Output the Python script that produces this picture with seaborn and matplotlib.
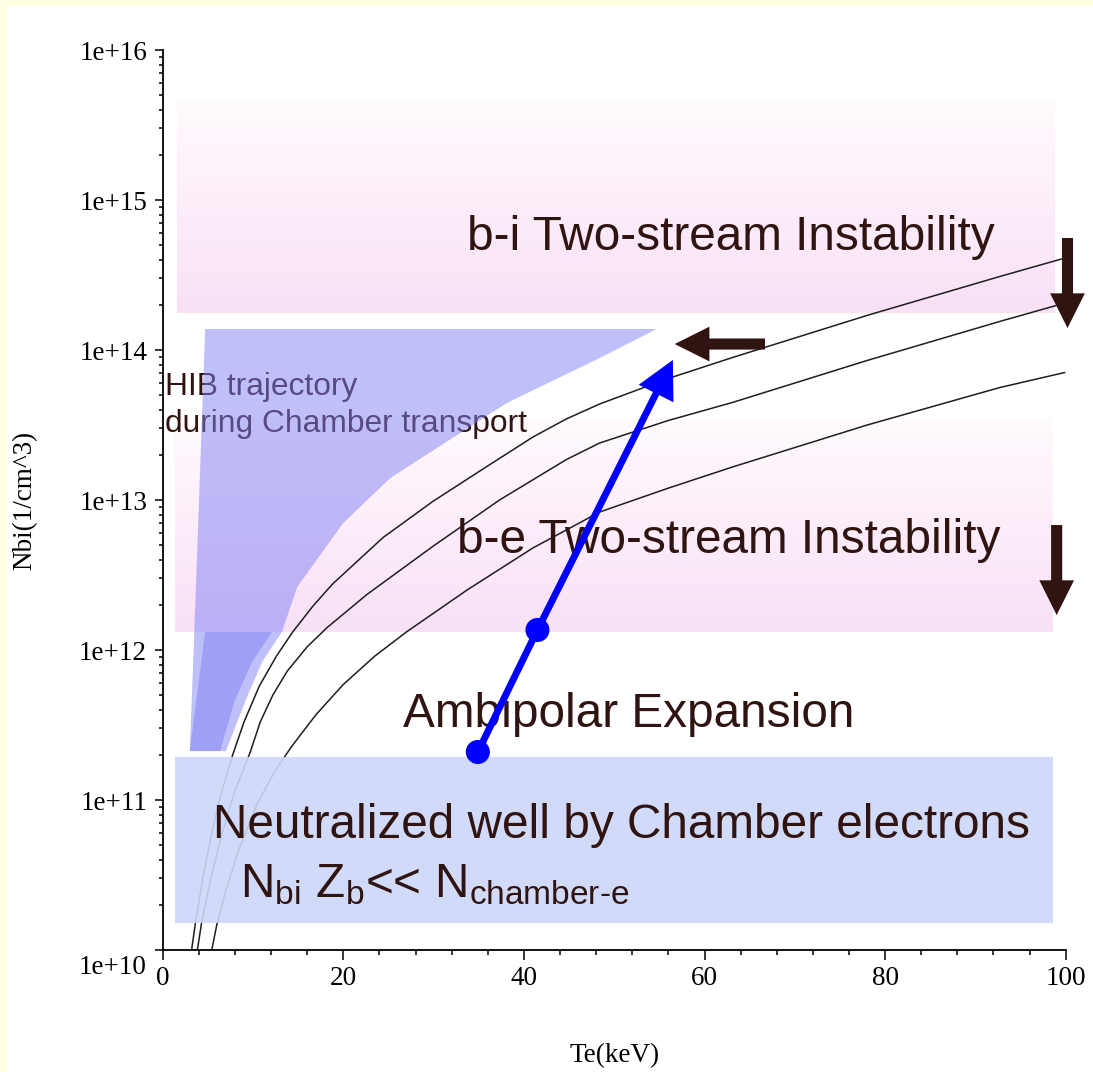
import numpy as np
import pandas as pd
import seaborn as sns
import matplotlib
matplotlib.use("Agg")
import matplotlib.pyplot as plt
from matplotlib.patches import Polygon, Rectangle
from matplotlib.ticker import MultipleLocator, LogLocator, NullFormatter
from matplotlib.colors import to_rgb

# ---------------------------------------------------------------- data
# Threshold curves Nbi(Te) [1/cm^3] vs Te [keV]
te_curve1 = [3.2, 3.6, 4.5, 5.5, 6.5, 7.75, 9.0, 10.7, 12.6, 14.4, 16.6, 18.8,
             24.4, 29.9, 35.4, 41.0, 44.7, 48.4, 56.0, 63.1, 78.0, 92.7, 99.7]
nb_curve1 = [1.0e10, 1.48e10, 3.16e10, 6.31e10, 1.12e11, 2.0e11, 3.31e11, 5.75e11,
             9.12e11, 1.32e12, 1.95e12, 2.75e12, 5.62e12, 9.77e12, 1.6e13, 2.63e13,
             3.47e13, 4.37e13, 6.46e13, 8.91e13, 1.70e14, 3.09e14, 4.07e14]

te_curve2 = [3.84, 4.3, 5.3, 6.5, 8.0, 9.7, 10.8, 12.2, 13.8, 16.0, 18.2, 22.6,
             29.9, 37.3, 44.7, 48.4, 56.0, 63.1, 78.0, 92.7, 99.7]
nb_curve2 = [1.0e10, 1.51e10, 2.95e10, 5.75e10, 1.15e11, 2.09e11, 3.31e11, 5.01e11,
             7.24e11, 1.05e12, 1.41e12, 2.34e12, 4.9e12, 1.0e13, 1.86e13, 2.4e13,
             3.39e13, 4.47e13, 8.51e13, 1.55e14, 2.04e14]

te_curve3 = [5.43, 6.0, 7.0, 8.5, 10.5, 12.5, 14.2, 15.2, 17.0, 20.0, 23.5, 27.0,
             33.7, 41.0, 48.4, 56.0, 63.1, 78.0, 92.7, 99.9]
nb_curve3 = [1.0e10, 1.48e10, 2.51e10, 4.79e10, 9.55e10, 1.58e11, 2.24e11, 2.69e11,
             3.72e11, 5.89e11, 9.12e11, 1.32e12, 2.51e12, 4.79e12, 8.32e12, 1.2e13,
             1.66e13, 3.16e13, 5.62e13, 7.08e13]

# Regions: (Te_min, Te_max, N_low, N_high)
bi_band = (1.55, 98.8, 1.77e14, 4.6e15)
be_band = (1.35, 98.6, 1.32e12, 3.52e13)
neutral_band = (1.35, 98.6, 1.51e10, 1.94e11)

# HIB trajectory envelope during chamber transport
hib_outer_te = [4.7, 54.7, 48.4, 38.1, 25.2, 20.0, 14.9, 13.2, 11.0, 9.2, 7.0, 3.0, 3.5]
hib_outer_n = [1.38e14, 1.38e14, 8.85e13, 4.43e13, 1.40e13, 7.03e12, 2.63e12,
               1.32e12, 8.3e11, 4.64e11, 2.12e11, 2.12e11, 1.32e12]
hib_inner_te = [4.7, 12.1, 9.9, 8.0, 6.35, 3.0]
hib_inner_n = [1.32e12, 1.32e12, 8.3e11, 4.64e11, 2.12e11, 2.12e11]

# Beam path: start, midpoint, end (arrow tip)
path_te = [34.9, 41.5, 56.5]
path_n = [2.09e11, 1.36e12, 8.58e13]

# Direction arrows: (Te_tail, N_tail, Te_tip, N_tip)
arrow_left = (66.7, 1.096e14, 56.7, 1.096e14)
arrow_down_bi = (100.2, 5.58e14, 100.2, 1.40e14)
arrow_down_be = (99.0, 6.81e12, 99.0, 1.71e12)

y_ticks = [1e10, 1e11, 1e12, 1e13, 1e14, 1e15, 1e16]
y_tick_labels = ["1e+10", "1e+11", "1e+12", "1e+13", "1e+14", "1e+15", "1e+16"]

# ---------------------------------------------------------------- style
sns.set_theme(style="white")
plt.rcParams["font.family"] = ["Liberation Sans", "DejaVu Sans"]
plt.rcParams["mathtext.fontset"] = "custom"
plt.rcParams["mathtext.rm"] = "Liberation Sans"
plt.rcParams["mathtext.it"] = "Liberation Sans:italic"
plt.rcParams["mathtext.bf"] = "Liberation Sans:bold"

BROWN = "#301412"
BLUE = "#0000FF"
YELLOW = "#FFFFE1"
SERIF = "Liberation Serif"

W, H = 1093, 1072
fig = plt.figure(figsize=(W / 100, H / 100), dpi=100, facecolor="white")
fig.patches.append(Rectangle((0, 0), 7 / W, 1, transform=fig.transFigure,
                             facecolor=YELLOW, edgecolor="none", zorder=0))
fig.patches.append(Rectangle((0, 1 - 6 / H), 1, 6 / H, transform=fig.transFigure,
                             facecolor=YELLOW, edgecolor="none", zorder=0))

ax = fig.add_axes([162.7 / W, 122 / H, 903 / W, 900 / H])
ax.set_facecolor("white")
ax.set_yscale("log")
ax.set_xlim(0, 100)
ax.set_ylim(1e10, 1e16)


def gradient_band(band, top_color, bottom_color, n=90, zorder=1):
    x0, x1, lo, hi = band
    edges = np.geomspace(lo, hi, n + 1)
    c_top = np.array(to_rgb(top_color))
    c_bot = np.array(to_rgb(bottom_color))
    for i in range(n):
        f = (i + 0.5) / n
        col = c_bot * (1 - f) + c_top * f
        ax.fill_between([x0, x1], edges[i], edges[i + 1], color=col,
                        linewidth=0, antialiased=False, zorder=zorder)


gradient_band(bi_band, "#FFFAFD", "#F8E0F5")
gradient_band(be_band, "#FFFAFD", "#F8E0F5")

# threshold curves
curves = pd.concat([
    pd.DataFrame({"Te": te_curve1, "Nbi": nb_curve1, "curve": "1"}),
    pd.DataFrame({"Te": te_curve2, "Nbi": nb_curve2, "curve": "2"}),
    pd.DataFrame({"Te": te_curve3, "Nbi": nb_curve3, "curve": "3"}),
], ignore_index=True)
sns.lineplot(data=curves, x="Te", y="Nbi", hue="curve",
             palette=["#1E1E1E"] * 3, linewidth=1.1, estimator=None,
             sort=False, legend=False, ax=ax, zorder=2)

# trajectory label sits beneath the translucent envelope
ax.text(0.25, 5.01e13, "HIB trajectory", fontsize=22.9, color=BROWN,
        va="baseline", ha="left", zorder=2.5)
ax.text(0.25, 2.84e13, "during Chamber transport", fontsize=22.9, color=BROWN,
        va="baseline", ha="left", zorder=2.5)

ax.add_patch(Polygon(np.column_stack([hib_outer_te, hib_outer_n]), closed=True,
                     facecolor="#8080F5", alpha=0.5, edgecolor="none", zorder=3))
ax.add_patch(Polygon(np.column_stack([hib_inner_te, hib_inner_n]), closed=True,
                     facecolor="#8080F5", alpha=0.5, edgecolor="none", zorder=3))

# neutralized region
x0, x1, lo, hi = neutral_band
ax.fill_between([x0, x1], lo, hi, color="#CCD8F9", alpha=0.9, linewidth=0, zorder=4)

# region labels
big = 34.4
ax.text(33.7, 4.64e14, "b-i Two-stream Instability", fontsize=big, color=BROWN,
        va="baseline", ha="left", zorder=5)
ax.text(32.6, 4.43e12, "b-e Two-stream Instability", fontsize=big, color=BROWN,
        va="baseline", ha="left", zorder=5)
ax.text(26.6, 3.07e11, "Ambipolar Expansion", fontsize=big, color=BROWN,
        va="baseline", ha="left", zorder=5)
ax.text(5.57, 5.58e10, "Neutralized well by Chamber electrons", fontsize=big,
        color=BROWN, va="baseline", ha="left", zorder=5)
ax.text(8.56, 2.26e10,
        r"N$_\mathregular{bi}$ Z$_\mathregular{b}$<< N$_\mathregular{chamber\text{-}e}$",
        fontsize=big, color=BROWN, va="baseline", ha="left", zorder=5)

# beam path
ax.plot(path_te[:2], path_n[:2], color=BLUE, linewidth=5, solid_capstyle="round",
        zorder=6)
ax.annotate("", xy=(path_te[2], path_n[2]), xytext=(path_te[1], path_n[1]),
            arrowprops=dict(arrowstyle="simple,head_length=27,head_width=28,tail_width=5",
                            mutation_scale=1, color=BLUE, shrinkA=0, shrinkB=0, lw=0),
            zorder=6)
sns.scatterplot(x=path_te[:2], y=path_n[:2], color=BLUE, s=300, edgecolor="none",
                ax=ax, zorder=7, legend=False)

for tx, ty, hx, hy in (arrow_left, arrow_down_bi, arrow_down_be):
    ax.annotate("", xy=(hx, hy), xytext=(tx, ty), annotation_clip=False,
                arrowprops=dict(arrowstyle="simple,head_length=25,head_width=25,tail_width=8",
                                mutation_scale=1, color=BROWN, shrinkA=0, shrinkB=0,
                                lw=0, clip_on=False),
                zorder=7)

# ---------------------------------------------------------------- axes
for side in ("top", "right"):
    ax.spines[side].set_visible(False)
for side in ("left", "bottom"):
    ax.spines[side].set_color("black")
    ax.spines[side].set_linewidth(1.3)

ax.xaxis.set_major_locator(MultipleLocator(20))
ax.xaxis.set_minor_locator(MultipleLocator(4))
ax.set_yticks(y_ticks)
ax.set_yticklabels([""] + y_tick_labels[1:])
ax.yaxis.set_minor_locator(LogLocator(base=10, subs=np.arange(2, 10)))
ax.yaxis.set_minor_formatter(NullFormatter())

ax.tick_params(axis="x", which="major", direction="out", length=7.5, width=1.1,
               pad=4, labelsize=19.5, labelcolor="black", color="black",
               bottom=True, labelfontfamily=SERIF)
ax.tick_params(axis="x", which="minor", direction="out", length=3.8, width=1.1,
               color="black", bottom=True)
ax.tick_params(axis="y", which="major", direction="out", length=5.8, width=1.1,
               pad=5.5, labelsize=19.5, labelcolor="black", color="black",
               left=True, labelfontfamily=SERIF)
ax.tick_params(axis="y", which="minor", direction="out", length=3.2, width=1.1,
               color="black", left=True)
ax.grid(False)

# bottom decade label is dropped below the x axis line
ax.annotate(y_tick_labels[0], xy=(0, 1e10), xycoords=("axes fraction", "data"),
            xytext=(-16, -17), textcoords="offset pixels", ha="right", va="center",
            fontsize=19.5, family=SERIF, color="black", annotation_clip=False)

ax.set_xlabel("Te(keV)", fontsize=19.5, family=SERIF, color="black")
ax.xaxis.set_label_coords(0.5, -0.103)
ax.xaxis.label.set_va("top")

ax.set_ylabel("Nbi(1/cm^3)", fontsize=19.5, family=SERIF, color="black")
ax.yaxis.set_label_coords(-0.139, 0.5)

fig.savefig("out.png", dpi=100, facecolor=fig.get_facecolor())
